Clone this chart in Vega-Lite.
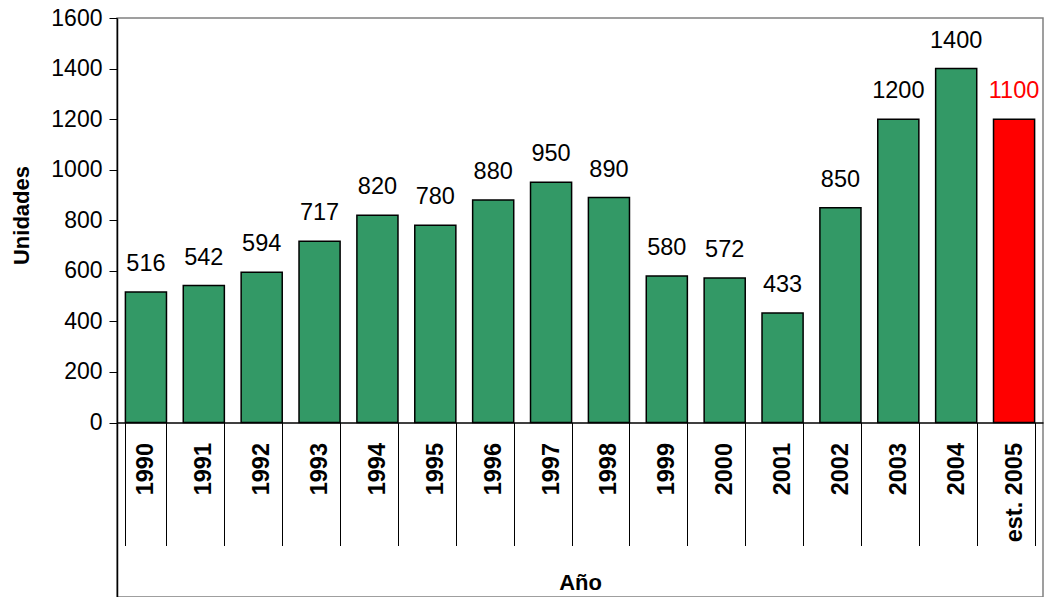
{
  "$schema": "https://vega.github.io/schema/vega-lite/v6.json",
  "width": 926,
  "height": 579,
  "autosize": {"type": "none"},
  "padding": {"left": 117, "top": 18, "right": 3, "bottom": 0},
  "background": "white",
  "config": {
    "font": "Liberation Sans",
    "view": {"stroke": "#808080", "strokeWidth": 1.5}
  },
  "data": {
    "values": [
      {"anio": "1990", "valor": 516, "etiqueta": "516", "tipo": "real"},
      {"anio": "1991", "valor": 542, "etiqueta": "542", "tipo": "real"},
      {"anio": "1992", "valor": 594, "etiqueta": "594", "tipo": "real"},
      {"anio": "1993", "valor": 717, "etiqueta": "717", "tipo": "real"},
      {"anio": "1994", "valor": 820, "etiqueta": "820", "tipo": "real"},
      {"anio": "1995", "valor": 780, "etiqueta": "780", "tipo": "real"},
      {"anio": "1996", "valor": 880, "etiqueta": "880", "tipo": "real"},
      {"anio": "1997", "valor": 950, "etiqueta": "950", "tipo": "real"},
      {"anio": "1998", "valor": 890, "etiqueta": "890", "tipo": "real"},
      {"anio": "1999", "valor": 580, "etiqueta": "580", "tipo": "real"},
      {"anio": "2000", "valor": 572, "etiqueta": "572", "tipo": "real"},
      {"anio": "2001", "valor": 433, "etiqueta": "433", "tipo": "real"},
      {"anio": "2002", "valor": 850, "etiqueta": "850", "tipo": "real"},
      {"anio": "2003", "valor": 1200, "etiqueta": "1200", "tipo": "real"},
      {"anio": "2004", "valor": 1400, "etiqueta": "1400", "tipo": "real"},
      {"anio": "est. 2005", "valor": 1200, "etiqueta": "1100", "tipo": "est"}
    ]
  },
  "encoding": {
    "x": {
      "field": "anio",
      "type": "ordinal",
      "sort": null,
      "scale": {"paddingInner": 0.29, "paddingOuter": 0.145},
      "axis": {
        "orient": "bottom",
        "offset": -174.5,
        "title": "Año",
        "titleFontSize": 22,
        "titleFontWeight": "bold",
        "titleColor": "black",
        "titleBaseline": "alphabetic",
        "titleY": 167,
        "labelAngle": 270,
        "labelAlign": "right",
        "labelBaseline": "middle",
        "labelFontSize": 23.5,
        "labelFontWeight": "bold",
        "labelColor": "black",
        "labelPadding": -103,
        "tickSize": 123,
        "tickBand": "extent",
        "tickColor": "black",
        "tickWidth": 1,
        "domainColor": "black",
        "domainWidth": 1.5
      }
    }
  },
  "layer": [
    {
      "mark": {"type": "bar", "stroke": "black", "strokeWidth": 1.5},
      "encoding": {
        "y": {
          "field": "valor",
          "type": "quantitative",
          "scale": {"domain": [-690, 1600], "nice": false, "zero": false},
          "axis": {
            "values": [0, 200, 400, 600, 800, 1000, 1200, 1400, 1600],
            "format": "d",
            "title": "Unidades",
            "titleFontSize": 22,
            "titleFontWeight": "bold",
            "titleColor": "black",
            "titleAngle": -90,
            "titleBaseline": "middle",
            "titleX": -96,
            "titleY": 197,
            "labelFontSize": 23,
            "labelColor": "black",
            "labelPadding": 7,
            "tickSize": 8,
            "tickColor": "black",
            "domainColor": "black",
            "domainWidth": 1.5,
            "grid": false
          }
        },
        "y2": {"datum": 0},
        "fill": {
          "field": "tipo",
          "type": "nominal",
          "scale": {"domain": ["real", "est"], "range": ["#339966", "#FF0000"]},
          "legend": null
        }
      }
    },
    {
      "mark": {"type": "text", "fontSize": 23.5, "baseline": "alphabetic", "dy": -21},
      "encoding": {
        "y": {"field": "valor", "type": "quantitative"},
        "text": {"field": "etiqueta"},
        "color": {
          "field": "tipo",
          "type": "nominal",
          "scale": {"domain": ["real", "est"], "range": ["black", "#FF0000"]},
          "legend": null
        }
      }
    }
  ]
}
